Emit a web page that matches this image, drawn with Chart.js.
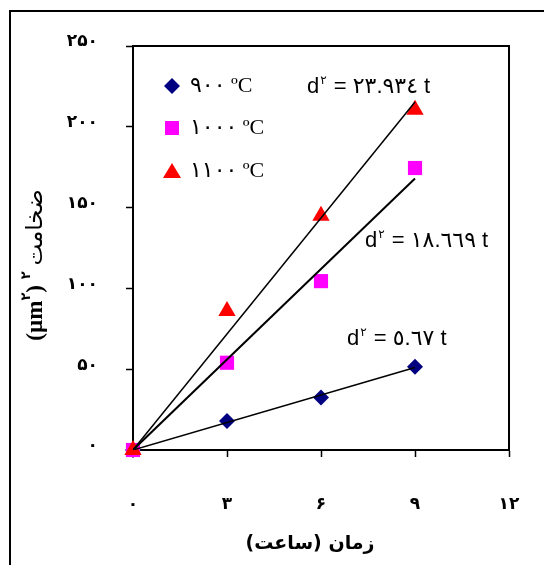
<!DOCTYPE html>
<html>
<head>
<meta charset="utf-8">
<script src="https://cdn.jsdelivr.net/npm/chart.js@4/dist/chart.umd.min.js"></script>
<style>
html,body{margin:0;padding:0;background:#fff;}
#wrap{width:544px;height:565px;}
</style>
</head>
<body>
<div id="wrap"><canvas id="growthChart" width="544" height="565"></canvas></div>
<script>
// time (hours) and d^2 (um^2)
var hours = [0, 3, 6, 9];
var d2_900 = [0, 18, 32.5, 51.5];
var d2_1000 = [0, 54, 104.5, 174.5];
var d2_1100 = [0, 86, 145, 210.5];

// fitted trend lines (end points at t = 0 and t = 9)
var fitHours = [0, 9];
var fit_900 = [0, 51];
var fit_1000 = [0, 168];
var fit_1100 = [0, 215.4];

var seriesNames = ['٩٠٠ ºC', '١٠٠٠ ºC', '١١٠٠ ºC'];
var seriesColors = ['#000080', '#FF00FF', '#FF0000'];
var fitSlopes = ['٥.٦٧', '١٨.٦٦٩', '٢٣.٩٣٤'];

var xTicks = {0: '۰', 3: '۳', 6: '۶', 9: '۹', 12: '۱۲'};
var yTicks = {0: '۰', 50: '۵۰', 100: '۱۰۰', 150: '۱۵۰', 200: '۲۰۰', 250: '۲۵۰'};
var xTitle = 'زمان (ساعت)';
var yTitleWord = 'ضخامت';

function toPoints(xs, ys){
  var pts = [];
  for(var i=0;i<xs.length;i++){
    pts.push({x: xs[i], y: ys[i]});
  }
  return pts;
}

var extras = {
  id: 'extras',
  beforeDraw: function(chart){
    var ctx = chart.ctx;
    ctx.save();
    ctx.fillStyle = '#fff';
    ctx.fillRect(0, 0, chart.width, chart.height);
    ctx.strokeStyle = '#000';
    ctx.lineWidth = 2;
    ctx.strokeRect(10, 11, 800, 800);
    ctx.restore();
  },
  afterDraw: function(chart){
    var ctx = chart.ctx;
    var a = chart.chartArea;
    ctx.save();
    // top and right side of the plot box
    ctx.strokeStyle = '#000';
    ctx.lineWidth = 2;
    ctx.beginPath();
    ctx.moveTo(a.left, a.top);
    ctx.lineTo(a.right, a.top);
    ctx.lineTo(a.right, a.bottom);
    ctx.stroke();

    // legend inside plot
    var ly = [86, 128, 171];
    for(var i=0;i<3;i++){
      var cx = 172, cy = ly[i];
      ctx.fillStyle = seriesColors[i];
      ctx.beginPath();
      if(i==0){
        ctx.moveTo(cx, cy-8); ctx.lineTo(cx+8, cy); ctx.lineTo(cx, cy+8); ctx.lineTo(cx-8, cy);
      }else if(i==1){
        ctx.rect(cx-7, cy-7, 14, 14);
      }else{
        ctx.moveTo(cx, cy-8); ctx.lineTo(cx+9, cy+7); ctx.lineTo(cx-9, cy+7);
      }
      ctx.closePath();
      ctx.fill();
      ctx.fillStyle = '#000';
      ctx.font = '22px "Liberation Serif", "DejaVu Sans"';
      ctx.textAlign = 'left';
      ctx.textBaseline = 'middle';
      ctx.fillText(seriesNames[i], 190, cy);
    }

    // equations
    var eqPos = [[347, 345], [365, 247], [307, 93]];
    for(var j=0;j<3;j++){
      var x = eqPos[j][0], y = eqPos[j][1];
      ctx.textBaseline = 'alphabetic';
      ctx.textAlign = 'left';
      ctx.font = '22px "Liberation Sans", "DejaVu Sans"';
      ctx.fillText('d', x, y);
      x += ctx.measureText('d').width;
      ctx.font = '12px "DejaVu Sans"';
      ctx.fillText('٢', x + 1, y - 9);
      x += ctx.measureText('٢').width + 2;
      ctx.font = '22px "Liberation Sans", "DejaVu Sans"';
      ctx.fillText(' = ' + fitSlopes[j] + ' t', x, y);
    }

    // x title
    ctx.direction = 'rtl';
    ctx.font = 'bold 19px "DejaVu Sans"';
    ctx.textAlign = 'center';
    ctx.textBaseline = 'middle';
    ctx.fillText(xTitle, 310, 544);
    ctx.direction = 'ltr';

    // y title, rotated, pieces placed left to right (bottom to top)
    ctx.translate(36, 265);
    ctx.rotate(-Math.PI/2);
    var pieces = [
      {t: '(µm', f: 'bold 23px "Liberation Serif"', dy: 0},
      {t: '٢', f: 'bold 13px "DejaVu Sans"', dy: -9},
      {t: ')', f: 'bold 23px "Liberation Serif"', dy: 0},
      {t: ' ', f: 'bold 23px "Liberation Serif"', dy: 0},
      {t: '٢', f: 'bold 13px "DejaVu Sans"', dy: -9},
      {t: ' ', f: 'bold 23px "Liberation Serif"', dy: 0},
      {t: yTitleWord, f: '23px "DejaVu Sans"', dy: 0}
    ];
    var total = 0;
    for(var k=0;k<pieces.length;k++){
      ctx.font = pieces[k].f;
      pieces[k].w = ctx.measureText(pieces[k].t).width;
      total += pieces[k].w;
    }
    var px = -total/2;
    ctx.textAlign = 'left';
    ctx.textBaseline = 'middle';
    for(var k=0;k<pieces.length;k++){
      ctx.font = pieces[k].f;
      ctx.fillText(pieces[k].t, px, pieces[k].dy);
      px += pieces[k].w;
    }
    ctx.restore();
  }
};

var ctx = document.getElementById('growthChart');
var chart = new Chart(ctx, {
  type: 'scatter',
  data: {
    datasets: [
      {label: 'fit900', data: toPoints(fitHours, fit_900), showLine: true, borderColor: '#000', borderWidth: 1.5, pointRadius: 0, order: 0},
      {label: 'fit1000', data: toPoints(fitHours, fit_1000), showLine: true, borderColor: '#000', borderWidth: 2, pointRadius: 0, order: 0},
      {label: 'fit1100', data: toPoints(fitHours, fit_1100), showLine: true, borderColor: '#000', borderWidth: 1.5, pointRadius: 0, order: 0},
      {label: seriesNames[2], data: toPoints(hours, d2_1100), pointStyle: 'triangle', pointRadius: 10, backgroundColor: seriesColors[2], borderColor: seriesColors[2], borderWidth: 0, order: 1, clip: false},
      {label: seriesNames[1], data: toPoints(hours, d2_1000), pointStyle: 'rect', pointRadius: 10, backgroundColor: seriesColors[1], borderColor: seriesColors[1], borderWidth: 0, order: 2, clip: false},
      {label: seriesNames[0], data: toPoints(hours, d2_900), pointStyle: 'rectRot', pointRadius: 8, backgroundColor: seriesColors[0], borderColor: seriesColors[0], borderWidth: 0, order: 3, clip: false}
    ]
  },
  options: {
    responsive: false,
    animation: false,
    devicePixelRatio: 1,
    layout: {padding: {left: 0, top: 46, right: 35, bottom: 0}},
    plugins: {legend: {display: false}, tooltip: {enabled: false}},
    scales: {
      x: {
        type: 'linear', min: 0, max: 12,
        afterFit: function(scale){
          scale.height = 115;
          scale.paddingLeft = 0;
          scale.paddingRight = 0;
        },
        border: {display: true, color: '#000', width: 2},
        grid: {drawOnChartArea: false, drawTicks: true, tickLength: 7, color: '#000', tickWidth: 1.5},
        ticks: {
          stepSize: 3, padding: 37, color: '#000',
          font: {family: 'DejaVu Sans', size: 17, weight: 'bold'},
          callback: function(v){ return xTicks[v]; }
        }
      },
      y: {
        type: 'linear', min: 0, max: 250,
        afterFit: function(scale){ scale.width = 133; },
        border: {display: true, color: '#000', width: 2},
        grid: {drawOnChartArea: false, drawTicks: true, tickLength: 7, color: '#000', tickWidth: 1.5},
        ticks: {
          stepSize: 50, padding: 28, color: '#000', labelOffset: -4,
          font: {family: 'DejaVu Sans', size: 17, weight: 'bold'},
          callback: function(v){ return yTicks[v]; }
        }
      }
    }
  },
  plugins: [extras]
});
</script>
</body>
</html>
